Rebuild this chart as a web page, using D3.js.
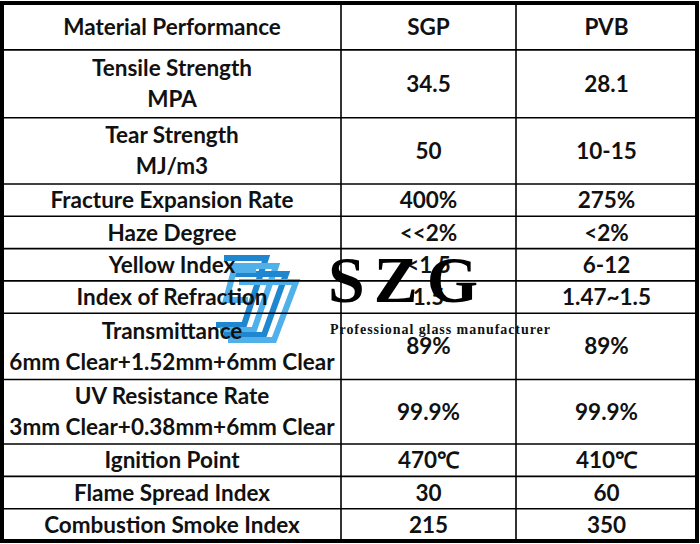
<!DOCTYPE html><html><head><meta charset="utf-8">
<script src="https://cdn.jsdelivr.net/npm/d3@7"></script>
<style>body{margin:0;background:#fff}</style></head><body><svg id="c" width="700" height="544"></svg>
<script>
const headers = ["Material Performance","SGP","PVB"];
const properties = [["Tensile Strength","MPA"],["Tear Strength","MJ/m3"],["Fracture Expansion Rate"],["Haze Degree"],["Yellow Index"],["Index of Refraction"],["Transmittance","6mm Clear+1.52mm+6mm Clear"],["UV Resistance Rate","3mm Clear+0.38mm+6mm Clear"],["Ignition Point"],["Flame Spread Index"],["Combustion Smoke Index"]];
const sgp = ["34.5","50","400%","<<2%","<1.5","1.5","89%","99.9%","470℃","30","215"];
const pvb = ["28.1","10-15","275%","<2%","6-12","1.47~1.5","89%","99.9%","410℃","60","350"];
const rowUnits = [1.42,2.1,2.05,1,1,1,1,2.05,2,1,1,1];

const svg = d3.select("#c");
const font = "Lato, 'Open Sans', sans-serif";
const cum = [0]; rowUnits.forEach(u=>cum.push(cum[cum.length-1]+u));
const y = d3.scaleLinear().domain([0,cum[cum.length-1]]).range([4,541]);
const x = d3.scaleLinear().domain([0,1,2,3]).range([3,341,516,697]);

// watermark logo
const g = svg.append("g").attr("fill","none").attr("stroke-linejoin","miter");
const blues=["#1f86d0","#4fb0ea","#1f86d0","#4fb0ea"];
for(let i=0;i<4;i++){
  const d=i*10;
  g.append("path").attr("d",`M${224+d*0.5},${258+d*0.8} L${266+d},${258+d*0.8} L${244+d},${325+d*0.5} L${216+d*0.4},${325+d*0.5}`)
   .attr("stroke",blues[i]).attr("stroke-width",6);
}
g.append("path").attr("d","M256,270 L234,270 L226,300 L248,300").attr("stroke","#4fb0ea").attr("stroke-width",6);

// grid
for(let i=1;i<cum.length-1;i++) svg.append("line").attr("x1",3).attr("x2",697).attr("y1",y(cum[i])).attr("y2",y(cum[i])).attr("stroke","#000").attr("stroke-width",1.6);
[1,2].forEach(c=>svg.append("line").attr("x1",x(c)).attr("x2",x(c)).attr("y1",4).attr("y2",541).attr("stroke","#000").attr("stroke-width",1.6));
svg.append("rect").attr("x",2).attr("y",3).attr("width",695).attr("height",538).attr("fill","none").attr("stroke","#000").attr("stroke-width",4);

function cell(col,row,lines){
  const cy=(y(cum[row])+y(cum[row+1]))/2, cx=(x(col)+x(col+1))/2;
  const lh=31, n=lines.length;
  lines.forEach((t,i)=>svg.append("text").attr("x",cx).attr("y",cy+(i-(n-1)/2)*lh).attr("dy","0.36em")
    .attr("text-anchor","middle").attr("font-family",font).attr("font-weight","bold").attr("font-size",22.5).attr("fill","#111").text(t));
}
headers.forEach((h,c)=>cell(c,0,[h]));
properties.forEach((p,r)=>{cell(0,r+1,p);cell(1,r+1,[sgp[r]]);cell(2,r+1,[pvb[r]]);});

svg.append("text").attr("x",328).attr("y",302).attr("font-family","'Liberation Serif',serif").attr("font-weight","bold").attr("font-size",66).attr("fill","#000").attr("textLength",150).text("S Z G");
svg.append("text").attr("x",330).attr("y",334).attr("font-family","'Liberation Serif',serif").attr("font-weight","bold").attr("font-size",14).attr("fill","#111").attr("textLength",220).text("Professional glass manufacturer");
</script></body></html>
